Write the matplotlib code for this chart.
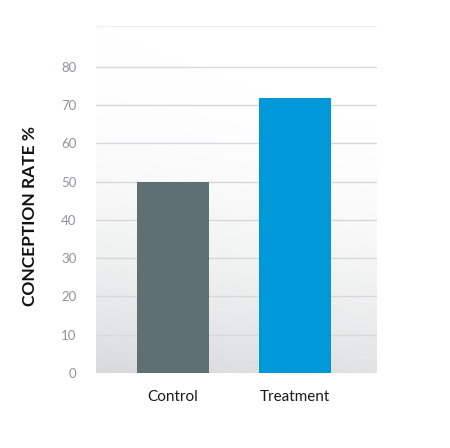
import numpy as np
import matplotlib
matplotlib.use("Agg")
import matplotlib.pyplot as plt

# chart data
groups = ["Control", "Treatment"]
rates = [50, 72]
bar_colors = ["#5e7072", "#0098d9"]
y_ticks = [0, 10, 20, 30, 40, 50, 60, 70, 80]

plt.rcParams['font.family'] = ['Lato', 'DejaVu Sans']

fig = plt.figure(figsize=(4.5, 4.48), dpi=100)
ax = fig.add_axes([0.2133, 0.1674, 0.6244, 0.7746])

xlim = (-0.63, 1.67)
ylim = (0, 90.7)

# soft grey background gradient (white at top, grey at bottom, a bit lighter to the right)
yy, xx = np.mgrid[0:1:200j, 0:1:200j]
shade = np.clip((1 - yy) ** 2.2 * 0.15 - xx * 0.035 * (1 - yy), 0, 1)
bg = np.ones((200, 200, 3)) - shade[..., None] * np.array([1.0, 0.97, 0.93])
ax.imshow(bg, extent=[xlim[0], xlim[1], ylim[1], ylim[0]], aspect='auto',
          origin='upper', zorder=0)

# gridlines
for t in y_ticks:
    ax.axhline(t, color="#d3d9dc", lw=1.0, zorder=1)
ax.axhline(ylim[1], color="#eceff0", lw=1.0, zorder=1)

ax.bar(range(len(groups)), rates, width=0.59, color=bar_colors, zorder=2)

ax.set_xlim(*xlim)
ax.set_ylim(*ylim)
ax.set_xticks(range(len(groups)))
ax.set_xticklabels(groups, fontsize=11, color="#1a1a1a")
ax.set_yticks(y_ticks)
ax.set_yticklabels([str(t) for t in y_ticks], fontsize=9.5, color="#8c9597")
ax.tick_params(axis='both', length=0)
ax.tick_params(axis='y', pad=14)
ax.tick_params(axis='x', pad=12)
for s in ax.spines.values():
    s.set_visible(False)

fig.text(0.067, 0.518, "CONCEPTION RATE %", rotation=90, ha='center', va='center',
         fontsize=12.5, fontweight='bold', color="#111111")

fig.savefig("out.png", dpi=100, facecolor="white")
